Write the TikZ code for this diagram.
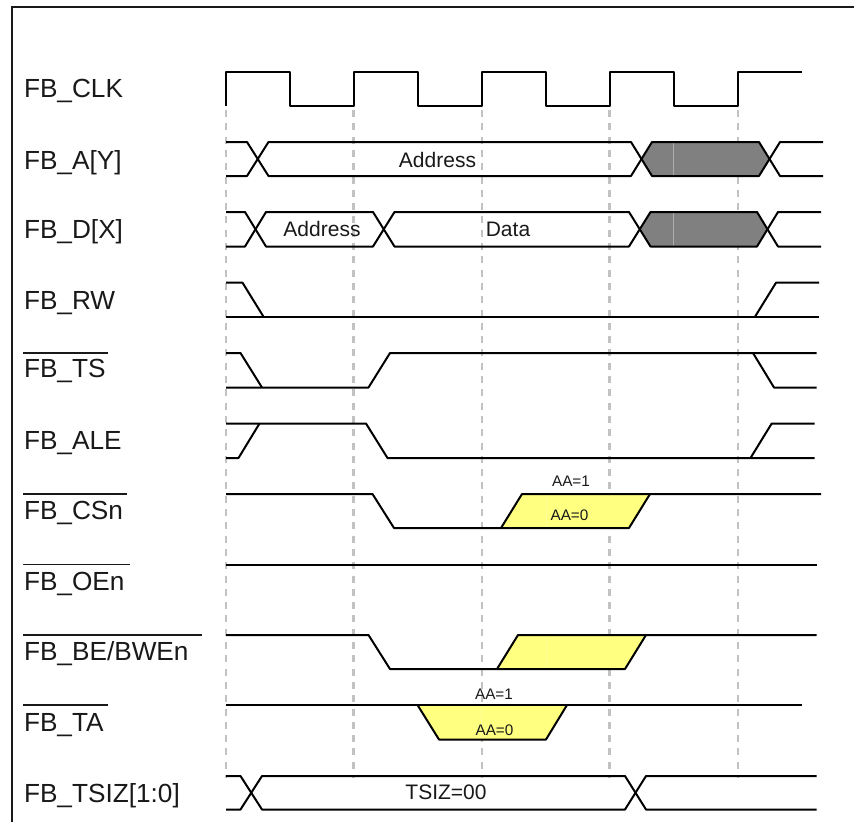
\documentclass[tikz,border=0pt]{standalone}
\usepackage{fontspec}
\setmainfont{Liberation Sans}
\definecolor{aay}{RGB}{255,255,128}
\tikzset{
  wave/.style={line width=2pt,black,line join=round},
  grid line/.style={line width=2.1pt,black!24,dash pattern=on 7pt off 6.3pt},
  sig/.style={anchor=base west,inner sep=0pt,outer sep=0pt,font=\fontsize{26.2}{30}\selectfont,text=black!90},
  bus/.style={anchor=base,inner sep=0pt,outer sep=0pt,font=\fontsize{21}{25}\selectfont,text=black!90},
  small/.style={anchor=base,inner sep=0pt,outer sep=0pt,font=\fontsize{15.3}{18}\selectfont,text=black!90},
  bar/.style={line width=1.9pt,black!90},
  undef/.style={fill=black!50},
  seam/.style={line width=0.8pt,black!32},
  yseam/.style={line width=0.6pt,aay!82!white}
}
\begin{document}
\begin{tikzpicture}[x=1pt,y=-1pt]
\useasboundingbox (0,0) rectangle (854,822);
\fill[white] (0,0) rectangle (854,822);
% frame
\draw[line width=2pt,black!90] (12.3,822) -- (12.3,7.3) -- (854,7.3);
% clock grid
\foreach \gx in {225.7,353.5,481.7,609.5,737.7}
  \draw[grid line] (\gx,110) -- (\gx,778);
% labels
\node[sig] (lclk) at (24,97.5) {FB\_CLK};
\node[sig] (la) at (24,169.5) {FB\_A[Y]};
\node[sig] (ld) at (24,238) {FB\_D[X]};
\node[sig] (lrw) at (24,309.5) {FB\_RW};
\node[sig] (lts) at (24,377.7) {FB\_TS};
\node[sig] (lale) at (24,449) {FB\_ALE};
\node[sig] (lcs) at (24,519) {FB\_CSn};
\node[sig] (loe) at (24,590.7) {FB\_OEn};
\node[sig] (lbe) at (24,660.5) {FB\_BE/BWEn};
\node[sig] (lta) at (24,731) {FB\_TA};
\node[sig] (lsz) at (24,802) {FB\_TSIZ[1:0]};
\draw[bar] (23,352.7) -- (108,352.7);
\draw[bar] (23,494) -- (127,494);
\draw[bar] (23,564.5) -- (129.5,564.5);
\draw[bar] (23,635) -- (202,635);
\draw[bar] (23,705) -- (108,705);
% CLK
\draw[wave] (225.7,105.5) -- (225.7,71.5) -- (290,71.5) -- (290,105.5) -- (353.5,105.5) -- (353.5,71.5) -- (417.7,71.5) -- (417.7,105.5) -- (481.7,105.5) -- (481.7,71.5) -- (546,71.5) -- (546,105.5) -- (609.5,105.5) -- (609.5,71.5) -- (673.7,71.5) -- (673.7,105.5) -- (737.7,105.5) -- (737.7,71.5) -- (801.5,71.5);
% A
\fill[undef] (641.5,159) -- (652,142) -- (759,142) -- (769.5,159) -- (759,176) -- (652,176) -- cycle;
\draw[seam] (673.7,143) -- (673.7,175);
\draw[wave] (226,142) -- (247,142) -- (268.5,176) -- (631,176) -- (652,142) -- (759,142) -- (780,176) -- (823,176);
\draw[wave] (226,176) -- (247,176) -- (268.5,142) -- (631,142) -- (652,176) -- (759,176) -- (780,142) -- (823,142);
\node[bus] (ta) at (437.5,167.7) {Address};
% D
\fill[undef] (639.7,229.2) -- (650.5,212) -- (757,212) -- (767.5,229.2) -- (757,246.5) -- (650.5,246.5) -- cycle;
\draw[seam] (673.7,213) -- (673.7,245.5);
\draw[wave] (226,212) -- (245,212) -- (266,246.5) -- (373,246.5) -- (394.5,212) -- (629,212) -- (650.5,246.5) -- (757,246.5) -- (778,212) -- (821,212);
\draw[wave] (226,246.5) -- (245,246.5) -- (266,212) -- (373,212) -- (394.5,246.5) -- (629,246.5) -- (650.5,212) -- (757,212) -- (778,246.5) -- (821,246.5);
\node[bus] (td1) at (322,236) {Address};
\node[bus] (td2) at (508,236) {Data};
% RW
\draw[wave] (226,282.7) -- (242.5,282.7) -- (263.5,316.7);
\draw[wave] (226,316.7) -- (819,316.7);
\draw[wave] (755,316.7) -- (776,282.7) -- (819,282.7);
% TS
\draw[wave] (226,353) -- (240.5,353) -- (262,387.5);
\draw[wave] (226,387.5) -- (368.5,387.5) -- (390,353) -- (816.5,353);
\draw[wave] (753,353) -- (774,387.5) -- (816.5,387.5);
% ALE
\draw[wave] (226,458) -- (238.5,458) -- (259.5,423.5);
\draw[wave] (226,423.5) -- (366,423.5) -- (387.5,458) -- (814.5,458);
\draw[wave] (750.5,458) -- (771.7,423.5) -- (814.5,423.5);
% CS
\fill[aay] (501,528) -- (522,494) -- (650,494) -- (629,528) -- cycle;
\draw[yseam] (546,495) -- (546,527);
\draw[wave] (226,494) -- (372.5,494) -- (394,528) -- (629,528) -- (650,494);
\draw[wave] (501,528) -- (522,494) -- (821,494);
\node[small] (t1) at (571,486) {AA=1};
\node[small] (t2) at (569.5,520) {AA=0};
% OE
\draw[wave] (226,564.5) -- (816.5,564.5);
% BE
\fill[aay] (497,669) -- (518,635) -- (646,635) -- (625,669) -- cycle;
\draw[yseam] (546,636) -- (546,668);
\draw[wave] (226,635) -- (368.5,635) -- (390,669) -- (625,669) -- (646,635);
\draw[wave] (497,669) -- (518,635) -- (816.5,635);
% TA
\fill[aay] (417.5,705) -- (439,739.5) -- (546,739.5) -- (567,705) -- cycle;
\draw[yseam] (481.7,706) -- (481.7,739);
\draw[wave] (226,705) -- (801.5,705);
\draw[wave] (417.5,705) -- (439,739.5) -- (546,739.5) -- (567,705);
\node[small] (t3) at (494,699) {AA=1};
\node[small] (t4) at (494.5,735) {AA=0};
% TSIZ
\draw[wave] (226,776) -- (240.5,776) -- (262,809.5) -- (625,809.5) -- (646,776) -- (816.5,776);
\draw[wave] (226,809.5) -- (240.5,809.5) -- (262,776) -- (625,776) -- (646,809.5) -- (816.5,809.5);
\node[bus] (tz) at (446,799) {TSIZ=00};
\end{tikzpicture}
\end{document}
